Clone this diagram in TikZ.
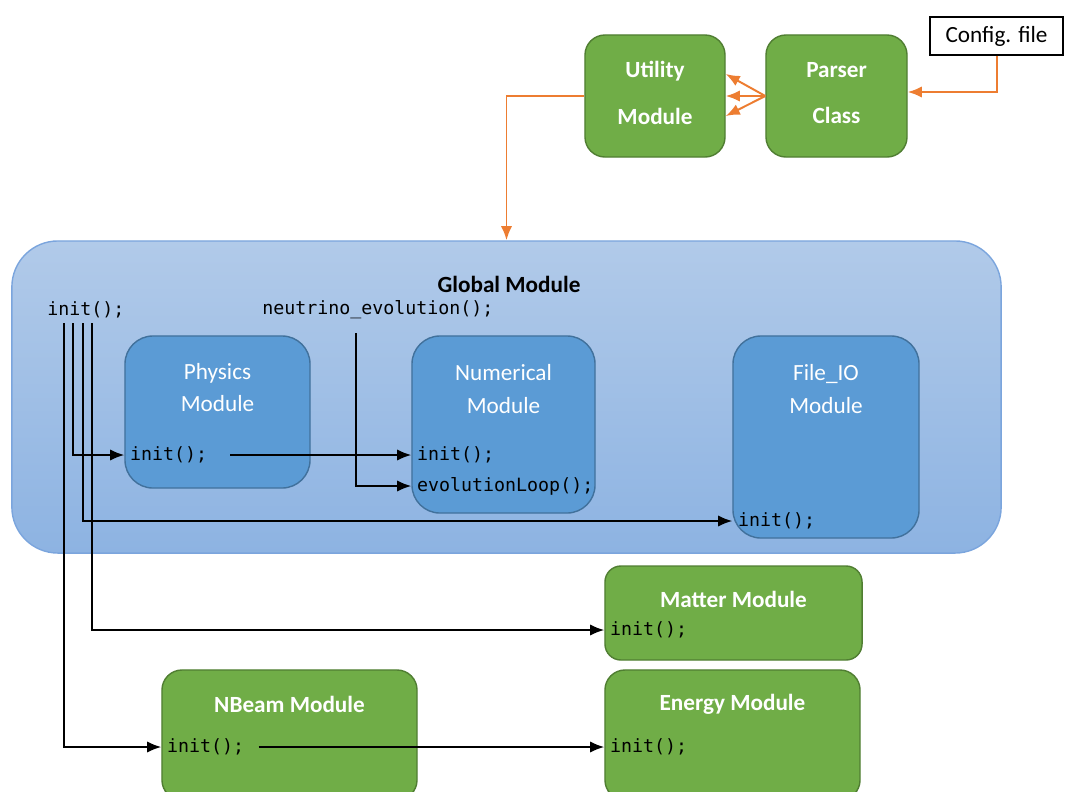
\documentclass[tikz,border=0pt]{standalone}
\usepackage{fontspec}
\setmainfont{Carlito}
\setmonofont{DejaVu Sans Mono}
\usepackage{xcolor}
\usetikzlibrary{arrows.meta, positioning}

\definecolor{gfill}{HTML}{70AD47}
\definecolor{gline}{HTML}{507E32}
\definecolor{bfill}{HTML}{5B9BD5}
\definecolor{bline}{HTML}{41719C}
\definecolor{orng}{HTML}{ED7D31}
\definecolor{gltop}{HTML}{B1CAE9}
\definecolor{glbot}{HTML}{8DB3E2}
\definecolor{glline}{HTML}{7BA5DD}

\tikzset{
  greenbox/.style={draw=gline, fill=gfill, line width=1pt, rounded corners=0.5cm, inner sep=0pt},
  bluebox/.style={draw=bline, fill=bfill, line width=1pt, rounded corners=0.7cm, inner sep=0pt},
  greentitle/.style={text=white, font=\fontsize{16.5pt}{33pt}\selectfont\bfseries, align=center},
  bluetitle/.style={text=white, font=\fontsize{16.5pt}{23pt}\selectfont, align=center},
  codetext/.style={font=\ttfamily\fontsize{13pt}{15pt}\selectfont, inner xsep=4pt, anchor=west},
  callarrow/.style={->, line width=1.3pt},
  orangearrow/.style={->, draw=orng, line width=1.4pt}
}

\begin{document}
\begin{tikzpicture}[x=0.025cm, y=-0.025cm, >={Latex[length=10pt,width=8pt]}]
    \useasboundingbox (0,0) rectangle (1070,791);
    \clip (0,0) rectangle (1070,791);
    % Haut: configuration
    \node[draw, fill=white, line width=0.8pt, minimum width=3.325cm, minimum height=0.95cm,
          font=\fontsize{16.5pt}{18pt}\selectfont] (config) at (996.5,36) {Config. file};
    \node[greenbox, greentitle, minimum width=3.5cm, minimum height=3.05cm] (utility) at (655,96) {};
    \node[greenbox, greentitle, minimum width=3.525cm, minimum height=3.05cm] (parser) at (836.5,96) {};
    \node[greentitle] at (655,93) {Utility\\Module};
    \node[greentitle] at (836.5,93) {Parser\\Class};

    % Module global
    \node[draw=glline, line width=1pt, top color=gltop, bottom color=glbot, rounded corners=1.15cm,
          minimum width=24.725cm, minimum height=7.8cm] (global) at (506.5,397) {};
    \node[font=\fontsize{16.5pt}{18pt}\selectfont\bfseries] (gtitle) at (509,284) {Global Module};
    \node[codetext, inner xsep=0pt] (ginit) at (47,310) {init();};
    \node[codetext, inner xsep=0pt] (nevo) at (262,310) {neutrino\_evolution();};

    % Sous-modules
    \node[bluebox, minimum width=4.625cm, minimum height=3.8cm] (phys) at (217.5,412) {};
    \node[bluebox, minimum width=4.575cm, minimum height=4.425cm] (num) at (503.5,424.5) {};
    \node[bluebox, minimum width=4.65cm, minimum height=5.05cm] (fileio) at (826,437) {};
    \node[bluetitle] at ([yshift=-1.3cm]phys.north) {Physics\\Module};
    \node[bluetitle] at ([yshift=-1.34cm]num.north) {Numerical\\Module};
    \node[bluetitle] at ([yshift=-1.34cm]fileio.north) {File\_IO\\Module};
    \node[codetext] (physinit) at (phys.west |- 0,455) {init();};
    \node[codetext] (numinit) at (num.west |- 0,455) {init();};
    \node[codetext] (evoloop) at (num.west |- 0,486) {evolutionLoop();};
    \node[codetext] (fileinit) at (fileio.west |- 0,521) {init();};

    % Modules externes
    \node[greenbox, rounded corners=0.4cm, minimum width=6.425cm, minimum height=2.35cm] (matter) at (733.5,613) {};
    \node[greenbox, rounded corners=0.5cm, minimum width=6.375cm, minimum height=3.25cm] (nbeam) at (289.5,735) {};
    \node[greenbox, rounded corners=0.5cm, minimum width=6.375cm, minimum height=3.25cm] (energy) at (732.5,735) {};
    \node[greentitle] at ([yshift=-0.85cm]matter.north) {Matter Module};
    \node[greentitle] at ([yshift=-0.875cm]nbeam.north) {NBeam Module};
    \node[greentitle] at ([yshift=-0.875cm]energy.north) {Energy Module};
    \node[codetext] (matinit) at (matter.west |- 0,630) {init();};
    \node[codetext] (nbinit) at (nbeam.west |- 0,747) {init();};
    \node[codetext] (eninit) at (energy.west |- 0,747) {init();};

    % Fleches orange
    \draw[orangearrow] (config.south) |- ([yshift=0.1cm]parser.east);
    \draw[orangearrow] (parser.west) -- ([yshift=0.55cm]utility.east);
    \draw[orangearrow] (parser.west) -- (utility.east);
    \draw[orangearrow] (parser.west) -- ([yshift=-0.5cm]utility.east);
    \draw[orangearrow] (utility.west) -| (global.north);

    % Appels init()
    \coordinate (t1) at (64,323);
    \coordinate (t2) at (73,323);
    \coordinate (t3) at (83,323);
    \coordinate (t4) at (92,323);
    \coordinate (e1) at (356,333);
    \draw[callarrow] (t2) |- (physinit.west);
    \draw[callarrow] (t3) |- (fileinit.west);
    \draw[callarrow] (t4) |- (matinit.west);
    \draw[callarrow] (t1) |- (nbinit.west);
    \draw[callarrow] (e1) |- (evoloop.west);
    \draw[callarrow, shorten <=12pt] (physinit.east) -- (numinit.west);
    \draw[callarrow, shorten <=6pt] (nbinit.east) -- (eninit.west);
\end{tikzpicture}
\end{document}
